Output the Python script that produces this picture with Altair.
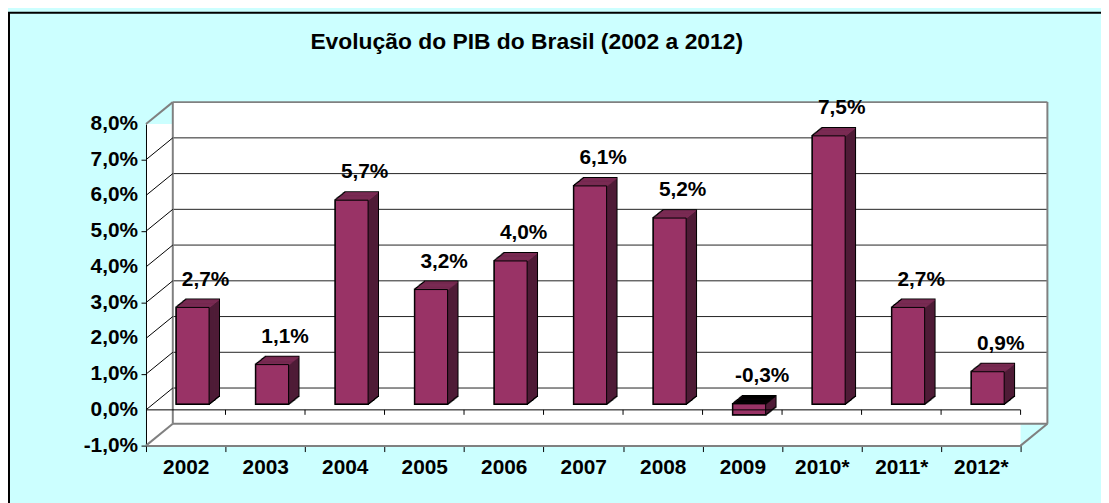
import altair as alt
import pandas as pd

# ---- data ----
years = ["2002", "2003", "2004", "2005", "2006", "2007", "2008", "2009", "2010*", "2011*", "2012*"]
growth = [2.7, 1.1, 5.7, 3.2, 4.0, 6.1, 5.2, -0.3, 7.5, 2.7, 0.9]
y_ticks = [-1, 0, 1, 2, 3, 4, 5, 6, 7, 8]
title_text = "Evolução do PIB do Brasil (2002 a 2012)"


def pct(v):
    return f"{v:.1f}".replace(".", ",") + "%"


df = pd.DataFrame({"year": years, "v": growth, "label": [pct(v) for v in growth]})
tick_df = pd.DataFrame({"g": y_ticks, "label": [pct(v) for v in y_ticks]})
inner_grid_df = pd.DataFrame({"g": y_ticks[1:-1]})
wall_df = pd.DataFrame({"top": [y_ticks[-1]], "bot": [y_ticks[0]]})
edge_df = pd.DataFrame({"e": [y_ticks[0], y_ticks[-1]]})

# ---- style ----
W, H = 881, 324
DX, DY = 27, -22          # wall depth
BX, BY = 7, -6            # bar front-face offset
BW = 33                   # bar width
DEP_X, DEP_Y = 10, -0.8   # bar depth per step
FONT = "Liberation Sans"
FS = 21
BG = "#CCFFFF"
FRONT = "#993366"
SIDE = "#4F1C37"
TOP = "#7A2B53"
EDGE = "#808080"

yscale = alt.Scale(domain=[y_ticks[0], y_ticks[-1]], nice=False, zero=False)
xscale = alt.Scale(domain=years, paddingInner=0, paddingOuter=0)

x_axis = alt.Axis(domainColor=EDGE, domainWidth=2, tickColor="black", tickSize=6,
                  tickBand="extent", labelFont=FONT, labelFontSize=FS,
                  labelFontWeight="bold", labelColor="black", labelPadding=5,
                  labelAngle=0, grid=False)
y_axis = alt.Axis(values=y_ticks, domainColor="black", domainWidth=1,
                  tickColor="black", tickSize=5, labels=False, grid=False)


def X(**kw):
    return alt.X("year:N", scale=xscale, sort=years, title=None, axis=x_axis, **kw)


def Y(field):
    return alt.Y(field, scale=yscale, title=None, axis=y_axis)


# ---- frame & walls ----
frame = alt.Chart(wall_df).mark_rect(filled=False, stroke="black", strokeWidth=2).encode(
    x=alt.value(-138), x2=alt.value(W + 120), y=alt.value(-112), y2=alt.value(H + 120)
)

back_wall = alt.Chart(wall_df).mark_rect(
    fill="white", xOffset=DX, x2Offset=DX, yOffset=DY, y2Offset=DY
).encode(x=alt.value(0), x2=alt.value("width"), y=Y("top:Q"), y2="bot:Q")

back_grid = alt.Chart(inner_grid_df).mark_rule(
    color="#222222", strokeWidth=1, xOffset=DX, x2Offset=DX, yOffset=DY
).encode(x=alt.value(0), x2=alt.value("width"), y=Y("g:Q"))

left_diag = alt.Chart(inner_grid_df).mark_rule(
    color="black", strokeWidth=1, y2Offset=DY
).encode(x=alt.value(0), x2=alt.value(DX), y=Y("g:Q"), y2="g:Q")

wall_edges_h = alt.Chart(edge_df).mark_rule(
    color=EDGE, strokeWidth=2, xOffset=DX, x2Offset=DX, yOffset=DY
).encode(x=alt.value(0), x2=alt.value("width"), y=Y("e:Q"))

wall_edges_v = alt.Chart(wall_df).mark_rule(
    color=EDGE, strokeWidth=2, xOffset=DX, yOffset=DY, y2Offset=DY
).encode(x=alt.value(0), y=Y("top:Q"), y2="bot:Q")

wall_edges_v2 = alt.Chart(wall_df).mark_rule(
    color=EDGE, strokeWidth=2, xOffset=DX, yOffset=DY, y2Offset=DY
).encode(x=alt.value("width"), y=Y("top:Q"), y2="bot:Q")

edge_diag = alt.Chart(edge_df).mark_rule(
    color=EDGE, strokeWidth=2, y2Offset=DY
).encode(x=alt.value(0), x2=alt.value(DX), y=Y("e:Q"), y2="e:Q")

floor_diag = alt.Chart(wall_df).mark_rule(
    color=EDGE, strokeWidth=2, x2Offset=DX, y2Offset=DY
).encode(x=alt.value("width"), x2=alt.value("width"), y=Y("bot:Q"), y2="bot:Q")

# ---- axes carrier + y tick labels ----
axes = alt.Chart(df).mark_point(opacity=0).encode(x=X(), y=Y("v:Q"))

y_labels = alt.Chart(tick_df).mark_text(
    font=FONT, fontSize=FS, fontWeight="bold", color="black",
    align="right", baseline="middle", xOffset=-8
).encode(x=alt.value(0), y=Y("g:Q"), text="label:N")

# ---- zero line with ticks ----
zero_line = alt.Chart(wall_df).mark_rule(color="black", strokeWidth=1).encode(
    x=alt.value(0), x2=alt.value("width"), y=alt.datum(0)
)
zero_ticks = alt.Chart(df).mark_rule(color="black", strokeWidth=1, y2Offset=5).encode(
    x=X(bandPosition=1), y=alt.datum(0), y2=alt.datum(0)
)

# ---- 3D bars ----
base = alt.Chart(df).transform_calculate(hi="max(datum.v, 0)", lo="min(datum.v, 0)")


def slab(i, color, size, grow=0.0, strip=None):
    ox = BX + DEP_X * i / 10
    oy = BY + DEP_Y * i
    if strip is None:
        mk = base.mark_bar(size=size, color=color, xOffset=ox,
                           yOffset=oy - grow, y2Offset=oy + grow)
        return mk.encode(x=X(), y=Y("hi:Q"), y2="lo:Q")
    mk = base.mark_bar(size=size, xOffset=ox, yOffset=oy, y2Offset=oy + strip)
    return mk.encode(
        x=X(), y=Y("hi:Q"), y2="hi:Q",
        color=alt.condition("datum.v < 0", alt.value("black"), alt.value(TOP))
    )


layers = [frame, back_wall, back_grid, wall_edges_h, wall_edges_v, wall_edges_v2,
          left_diag, edge_diag, floor_diag, axes, y_labels]
for i in range(10, -1, -1):
    layers.append(slab(i, "black", BW + 2, grow=1.0))
for i in range(10, 0, -1):
    layers.append(slab(i, SIDE, BW))
for i in range(10, -1, -1):
    layers.append(slab(i, TOP, BW, strip=1.2))

front = base.mark_bar(size=BW, color=FRONT, stroke="black", strokeWidth=1,
                      xOffset=BX, yOffset=BY, y2Offset=BY).encode(
    x=X(), y=Y("hi:Q"), y2="lo:Q")
layers.append(front)
layers += [zero_line, zero_ticks]

value_labels = base.mark_text(font=FONT, fontSize=FS, fontWeight="bold", color="black",
                              xOffset=20, yOffset=BY - 28, baseline="middle").encode(
    x=X(), y=Y("hi:Q"), text="label:N")
layers.append(value_labels)

chart = alt.layer(*layers).properties(
    width=W, height=H,
    autosize=alt.AutoSizeParams(type="none"),
    padding={"left": 139, "top": 115, "right": 81, "bottom": 56},
    background=BG,
    title=alt.TitleParams(title_text, font=FONT, fontSize=23, fontWeight="bold",
                          color="black", anchor="middle", frame="group", dx=-57,
                          offset=-42),
).configure_view(fill="white", stroke=None)

chart.save("out.html", embed_options={"renderer": "svg", "actions": False})
